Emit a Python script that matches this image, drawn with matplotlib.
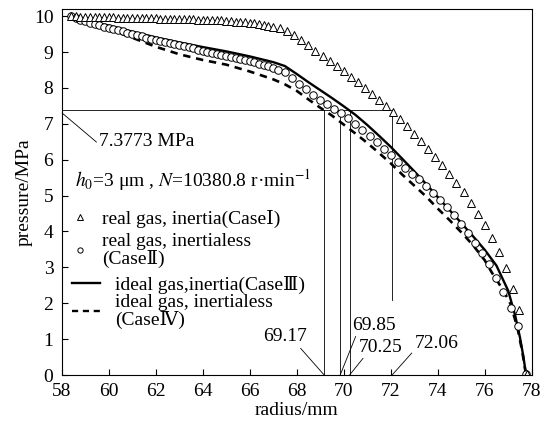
import matplotlib
matplotlib.use("Agg")
import matplotlib.pyplot as plt
from matplotlib.lines import Line2D

plt.rcParams['font.family'] = ['Liberation Serif', 'DejaVu Serif']
plt.rcParams['mathtext.fontset'] = 'stix'
plt.rcParams['font.size'] = 14

# Case I: real gas, inertia (triangles)
r_case1 = [58.4, 58.6, 58.8, 59.0, 59.2, 59.4, 59.6, 59.8, 60.0, 60.2, 60.4, 60.6,
           60.8, 61.0, 61.2, 61.4, 61.6, 61.8, 62.0, 62.2, 62.4, 62.6, 62.8, 63.0,
           63.2, 63.4, 63.6, 63.8, 64.0, 64.2, 64.4, 64.6, 64.8, 65.0, 65.2, 65.4,
           65.6, 65.8, 66.0, 66.2, 66.4, 66.6, 66.8, 67.0,
           67.3, 67.6, 67.9, 68.2, 68.5, 68.8, 69.1, 69.4, 69.7, 70.0, 70.3, 70.6,
           70.9, 71.2, 71.5, 71.8, 72.1, 72.4, 72.7, 73.0, 73.3, 73.6, 73.9, 74.2,
           74.5, 74.8, 75.1, 75.4, 75.7, 76.0, 76.3, 76.6, 76.9, 77.2, 77.45, 77.8]
p_case1 = [10.00, 10.00, 9.99, 9.99, 9.98, 9.98, 9.98, 9.97, 9.97, 9.97, 9.96, 9.96,
           9.96, 9.95, 9.95, 9.95, 9.94, 9.94, 9.94, 9.93, 9.93, 9.93, 9.92, 9.92,
           9.92, 9.91, 9.91, 9.90, 9.90, 9.89, 9.89, 9.88, 9.88, 9.87, 9.86, 9.85,
           9.84, 9.83, 9.82, 9.80, 9.78, 9.76, 9.73, 9.70,
           9.67, 9.58, 9.47, 9.35, 9.20, 9.04, 8.88, 8.74, 8.60, 8.46, 8.31, 8.16,
           8.00, 7.84, 7.67, 7.50, 7.32, 7.13, 6.93, 6.73, 6.52, 6.31, 6.08, 5.85,
           5.61, 5.36, 5.09, 4.80, 4.50, 4.17, 3.82, 3.43, 2.98, 2.40, 1.81, 0.03]

# Case II: real gas, inertialess (circles)
r_case2 = [58.4, 58.6, 58.8, 59.0, 59.2, 59.4, 59.6, 59.8, 60.0, 60.2, 60.4, 60.6,
           60.8, 61.0, 61.2, 61.4, 61.6, 61.8, 62.0, 62.2, 62.4, 62.6, 62.8, 63.0,
           63.2, 63.4, 63.6, 63.8, 64.0, 64.2, 64.4, 64.6, 64.8, 65.0, 65.2, 65.4,
           65.6, 65.8, 66.0, 66.2, 66.4, 66.6, 66.8, 67.0, 67.2,
           67.5, 67.8, 68.1, 68.4, 68.7, 69.0, 69.3, 69.6, 69.9, 70.2, 70.5, 70.8,
           71.1, 71.4, 71.7, 72.0, 72.3, 72.6, 72.9, 73.2, 73.5, 73.8, 74.1, 74.4,
           74.7, 75.0, 75.3, 75.6, 75.9, 76.2, 76.5, 76.8, 77.1, 77.4, 77.75]
p_case2 = [10.00, 9.95, 9.90, 9.86, 9.82, 9.78, 9.75, 9.71, 9.68, 9.64, 9.61, 9.58,
           9.54, 9.51, 9.47, 9.44, 9.40, 9.37, 9.34, 9.31, 9.28, 9.25, 9.22, 9.19,
           9.16, 9.13, 9.10, 9.07, 9.04, 9.01, 8.98, 8.95, 8.92, 8.89, 8.86, 8.83,
           8.80, 8.77, 8.74, 8.71, 8.68, 8.64, 8.60, 8.56, 8.51,
           8.44, 8.27, 8.11, 7.96, 7.81, 7.67, 7.54, 7.42, 7.30, 7.15, 6.99, 6.83,
           6.66, 6.49, 6.31, 6.13, 5.95, 5.77, 5.60, 5.45, 5.27, 5.08, 4.88, 4.67,
           4.45, 4.21, 3.96, 3.69, 3.40, 3.08, 2.70, 2.30, 1.87, 1.38, 0.03]

# Case III: ideal gas, inertia (solid line)
r_case3 = [58.4, 59.0, 60.0, 61.0, 62.0, 63.0, 64.0, 65.0, 66.0, 67.0, 67.5,
           68.0, 68.5, 69.0, 69.5, 70.0, 70.5, 71.0, 71.5, 72.0, 72.5, 73.0,
           73.5, 74.0, 74.5, 75.0, 75.5, 76.0, 76.5, 77.0, 77.3, 77.5, 77.65, 77.75]
p_case3 = [10.00, 9.88, 9.74, 9.57, 9.41, 9.27, 9.14, 9.02, 8.88, 8.72, 8.61,
           8.39, 8.16, 7.94, 7.72, 7.49, 7.25, 6.97, 6.67, 6.36, 6.02, 5.68,
           5.33, 4.96, 4.60, 4.24, 3.87, 3.49, 3.05, 2.35, 1.65, 1.05, 0.50, 0.05]

# Case IV: ideal gas, inertialess (dashed line)
r_case4 = [58.4, 59.0, 60.0, 61.0, 62.0, 63.0, 64.0, 65.0, 66.0, 67.0, 67.5,
           68.0, 68.5, 69.0, 69.5, 70.0, 70.5, 71.0, 71.5, 72.0, 72.5, 73.0,
           73.5, 74.0, 74.5, 75.0, 75.5, 76.0, 76.3, 76.8, 77.1, 77.4, 77.6, 77.75]
p_case4 = [10.00, 9.86, 9.64, 9.40, 9.15, 8.94, 8.78, 8.65, 8.46, 8.24, 8.10,
           7.92, 7.68, 7.45, 7.23, 6.98, 6.73, 6.47, 6.19, 5.90, 5.58, 5.28,
           4.98, 4.64, 4.32, 3.98, 3.62, 3.20, 2.86, 2.35, 1.98, 1.30, 0.65, 0.03]

p_crit = 7.3773
r_cross = [69.17, 69.85, 70.25, 72.06]
r_cross_labels = ['69.17', '69.85', '70.25', '72.06']

fig = plt.figure(figsize=(5.46, 4.25), dpi=100)
ax = fig.add_axes([0.113, 0.1176, 0.8608, 0.8612])

# reference lines for the critical pressure
ax.plot([58, r_cross[3]], [p_crit, p_crit], color='black', lw=0.6)
for r in r_cross[:3]:
    ax.plot([r, r], [0, p_crit], color='black', lw=0.6)
ax.plot([r_cross[3], r_cross[3]], [2.1, p_crit], color='black', lw=0.6)

ax.plot(r_case4, p_case4, color='black', lw=1.9, linestyle=(0, (2.8, 2.2)))
ax.plot(r_case3, p_case3, color='black', lw=1.7)
ax.plot(r_case2, p_case2, linestyle='none', marker='o', ms=5.4, mfc='white',
        mec='black', mew=0.7)
ax.plot(r_case1, p_case1, linestyle='none', marker='^', ms=6.4, mfc='white',
        mec='black', mew=0.7)

ax.set_xlim(58, 78)
ax.set_ylim(0, 10.2)
ax.set_xticks(range(58, 79, 2))
ax.set_yticks(range(0, 11))
ax.tick_params(direction='in', length=4, width=0.8, top=False, right=False)
ax.tick_params(axis='x', pad=6)
ax.tick_params(axis='y', pad=6)
for s in ax.spines.values():
    s.set_linewidth(0.8)
ax.set_xlabel('radius/mm', labelpad=1)
ax.set_ylabel('pressure/MPa', labelpad=1)

arrow = dict(arrowstyle='-', color='black', lw=0.6, shrinkA=0, shrinkB=0)
ax.annotate('7.3773 MPa', xy=(58.02, 7.30), xytext=(59.6, 6.52), ha='left', va='center',
            arrowprops=dict(arrow, relpos=(0, 0.3)))
ax.annotate(r_cross_labels[0], xy=(r_cross[0], 0), xytext=(67.5, 1.06), ha='center',
            va='center', arrowprops=dict(arrow, relpos=(0.8, 0)))
ax.annotate(r_cross_labels[1], xy=(r_cross[1], 0), xytext=(71.3, 1.39), ha='center',
            va='center', arrowprops=dict(arrow, relpos=(0.1, 0)))
ax.annotate(r_cross_labels[2], xy=(r_cross[2], 0), xytext=(71.57, 0.78), ha='center',
            va='center', arrowprops=dict(arrow, relpos=(0.15, 0)))
ax.annotate(r_cross_labels[3], xy=(r_cross[3], 0), xytext=(73.95, 0.89), ha='center',
            va='center', arrowprops=dict(arrow, relpos=(0, 0.1)))

ax.text(58.57, 5.43, r'$h_0$=3 μm , $N$=10380.8 r·min$^{-1}$', ha='left', va='center')

h1 = Line2D([], [], linestyle='none', marker='^', ms=6.4, mfc='white', mec='black', mew=0.7)
h2 = Line2D([], [], linestyle='none', marker='o', ms=5.4, mfc='white', mec='black', mew=0.7)
leg1 = ax.legend([h1, h2], ['real gas, inertia(CaseⅠ)', 'real gas, inertialess\n(CaseⅡ)'],
                 loc='upper left', bbox_to_anchor=(0.022, 0.452), frameon=False,
                 borderpad=0, borderaxespad=0, handlelength=0.8, handletextpad=0.75,
                 labelspacing=0.25, markerscale=0.7)
for t in leg1.get_texts():
    t.set_linespacing(1.05)
ax.add_artist(leg1)

h3 = Line2D([], [], color='black', lw=1.7)
h4 = Line2D([], [], color='black', lw=1.7, linestyle=(0, (2.6, 2.0)))
leg2 = ax.legend([h3, h4], ['ideal gas,inertia(CaseⅢ)', 'ideal gas, inertialess\n(CaseⅣ)'],
                 loc='upper left', bbox_to_anchor=(0.022, 0.27), frameon=False,
                 borderpad=0, borderaxespad=0, handlelength=1.45, handletextpad=0.75,
                 labelspacing=0.0)
for t in leg2.get_texts():
    t.set_linespacing(0.95)

fig.savefig('out.png', dpi=100)
